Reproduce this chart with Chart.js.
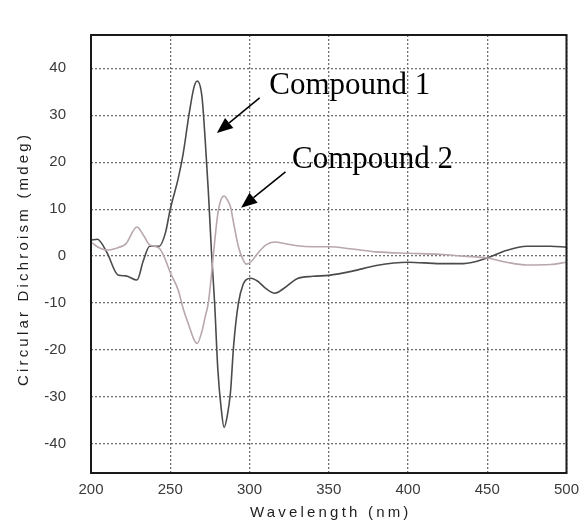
<!DOCTYPE html>
<html>
<head>
<meta charset="utf-8">
<script src="https://cdn.jsdelivr.net/npm/chart.js@4.4.0/dist/chart.umd.min.js"></script>
<style>
  html, body { margin: 0; padding: 0; background: #fff; }
</style>
</head>
<body>
<canvas id="cdChart" width="587" height="524"></canvas>
<script>
// wavelength grid (nm) shared by both spectra
const wavelength = [200, 204, 210, 217, 222, 229, 233, 237, 243, 247, 250, 255, 258, 262, 265, 267,
  270, 272, 274, 276, 278, 280, 282, 284, 286, 288, 290, 293, 296, 298, 301, 305, 310, 316, 322,
  330, 340, 350, 365, 380, 400, 420, 435, 450, 462, 475, 490, 500];

// CD signal (mdeg)
const compound1 = [3.4, 3.6, 0.8, -4.0, -4.2, -5.1, -1.0, 2.1, 2.1, 5.0, 10, 16.5, 21.5, 30.5, 36, 37.3,
  34, 25, 14, 1, -10, -24, -32, -36.5, -34, -29, -19, -10, -6, -5, -4.7, -5.3, -6.8, -7.9, -6.8,
  -4.8, -4.3, -4.1, -3.2, -2.0, -1.3, -1.6, -1.6, -0.4, 1.2, 2.1, 2.1, 1.9];
const compound2 = [3.0, 2.0, 1.3, 1.8, 2.6, 6.2, 4.5, 2.4, 1.7, -0.8, -3.5, -7.2, -11, -15, -17.8, -18.6,
  -16, -13, -10, -4, 3, 9, 12, 12.8, 12, 10.5, 7, 2, -0.8, -1.7, -1.2, 0.5, 2.3, 3.0, 2.7,
  2.2, 2.0, 2.0, 1.5, 0.9, 0.6, 0.4, 0.0, -0.4, -1.3, -1.9, -1.8, -1.3];

const xTicks = [200, 250, 300, 350, 400, 450, 500];
const yTicks = [-40, -30, -20, -10, 0, 10, 20, 30, 40];

// annotations, in data coordinates
const noteText = ['Compound 1', 'Compound 2'];
const noteAt = [[312.5, 34.6], [326.8, 18.8]];
const arrowFrom = [[306.4, 33.7], [322.7, 17.95]];
const arrowTo = [[279.4, 26.2], [294.7, 10.3]];

const frameAndNotes = {
  id: 'frameAndNotes',
  afterDatasetsDraw(chart) {
    const { ctx, chartArea: a, scales: { x, y } } = chart;
    ctx.save();
    // box round the plot
    ctx.strokeStyle = '#1a1a1a';
    ctx.lineWidth = 2;
    ctx.strokeRect(a.left, a.top, a.right - a.left, a.bottom - a.top);

    // labels
    ctx.fillStyle = '#000';
    ctx.font = '31px "Liberation Serif"';
    ctx.textBaseline = 'alphabetic';
    ctx.textAlign = 'left';
    noteText.forEach((t, i) => {
      ctx.fillText(t, x.getPixelForValue(noteAt[i][0]), y.getPixelForValue(noteAt[i][1]));
    });

    // arrows
    ctx.strokeStyle = '#000';
    ctx.lineWidth = 1.5;
    arrowFrom.forEach((f, i) => {
      const x0 = x.getPixelForValue(f[0]), y0 = y.getPixelForValue(f[1]);
      const x1 = x.getPixelForValue(arrowTo[i][0]), y1 = y.getPixelForValue(arrowTo[i][1]);
      const ang = Math.atan2(y1 - y0, x1 - x0);
      const len = 16, half = 6.5;
      const bx = x1 - len * Math.cos(ang), by = y1 - len * Math.sin(ang);
      ctx.beginPath();
      ctx.moveTo(x0, y0);
      ctx.lineTo(bx, by);
      ctx.stroke();
      ctx.beginPath();
      ctx.moveTo(x1, y1);
      ctx.lineTo(bx + half * Math.sin(ang), by - half * Math.cos(ang));
      ctx.lineTo(bx - half * Math.sin(ang), by + half * Math.cos(ang));
      ctx.closePath();
      ctx.fill();
    });

    // axis titles (spaced out like the original)
    ctx.fillStyle = '#1e1e1e';
    ctx.font = '15px "Liberation Sans"';
    ctx.letterSpacing = '3.2px';
    ctx.textAlign = 'center';
    ctx.textBaseline = 'middle';
    ctx.fillText('Wavelength (nm)', (a.left + a.right) / 2 + 2, a.bottom + 40);
    ctx.translate(24, (a.top + a.bottom) / 2 + 5);
    ctx.rotate(-Math.PI / 2);
    ctx.fillText('Circular Dichroism (mdeg)', 0, 0);
    ctx.restore();
  }
};

const toPoints = vals => wavelength.map((w, i) => ({ x: w, y: vals[i] }));

const gridOpts = { color: '#707070', lineWidth: 1.3, drawTicks: false };
const tickFont = { family: 'Liberation Sans', size: 15 };

new Chart(document.getElementById('cdChart'), {
  type: 'line',
  data: {
    datasets: [{
      label: 'Compound 2',
      data: toPoints(compound2),
      borderColor: '#b8a7ae',
      borderWidth: 1.6,
      pointRadius: 0,
      cubicInterpolationMode: 'monotone'
    }, {
      label: 'Compound 1',
      data: toPoints(compound1),
      borderColor: '#4b4b4b',
      borderWidth: 1.6,
      pointRadius: 0,
      cubicInterpolationMode: 'monotone'
    }]
  },
  options: {
    responsive: false,
    animation: false,
    layout: { padding: { top: 35, right: 14, left: 0, bottom: 0 } },
    plugins: { legend: { display: false }, tooltip: { enabled: false } },
    scales: {
      x: {
        type: 'linear',
        min: 200,
        max: 500,
        afterBuildTicks: s => { s.ticks = xTicks.map(v => ({ value: v })); },
        afterFit: s => { s.height = 51; },
        grid: gridOpts,
        border: { display: false, dash: [2, 2] },
        ticks: { color: '#3a3a3a', font: tickFont, padding: 8, maxRotation: 0, autoSkip: false }
      },
      y: {
        min: -46.2,
        max: 47.1,
        afterBuildTicks: s => { s.ticks = yTicks.map(v => ({ value: v })); },
        afterFit: s => { s.width = 91; },
        grid: gridOpts,
        border: { display: false, dash: [2, 2] },
        ticks: { color: '#3a3a3a', font: tickFont, padding: 25, autoSkip: false }
      }
    }
  },
  plugins: [frameAndNotes]
});
</script>
</body>
</html>
